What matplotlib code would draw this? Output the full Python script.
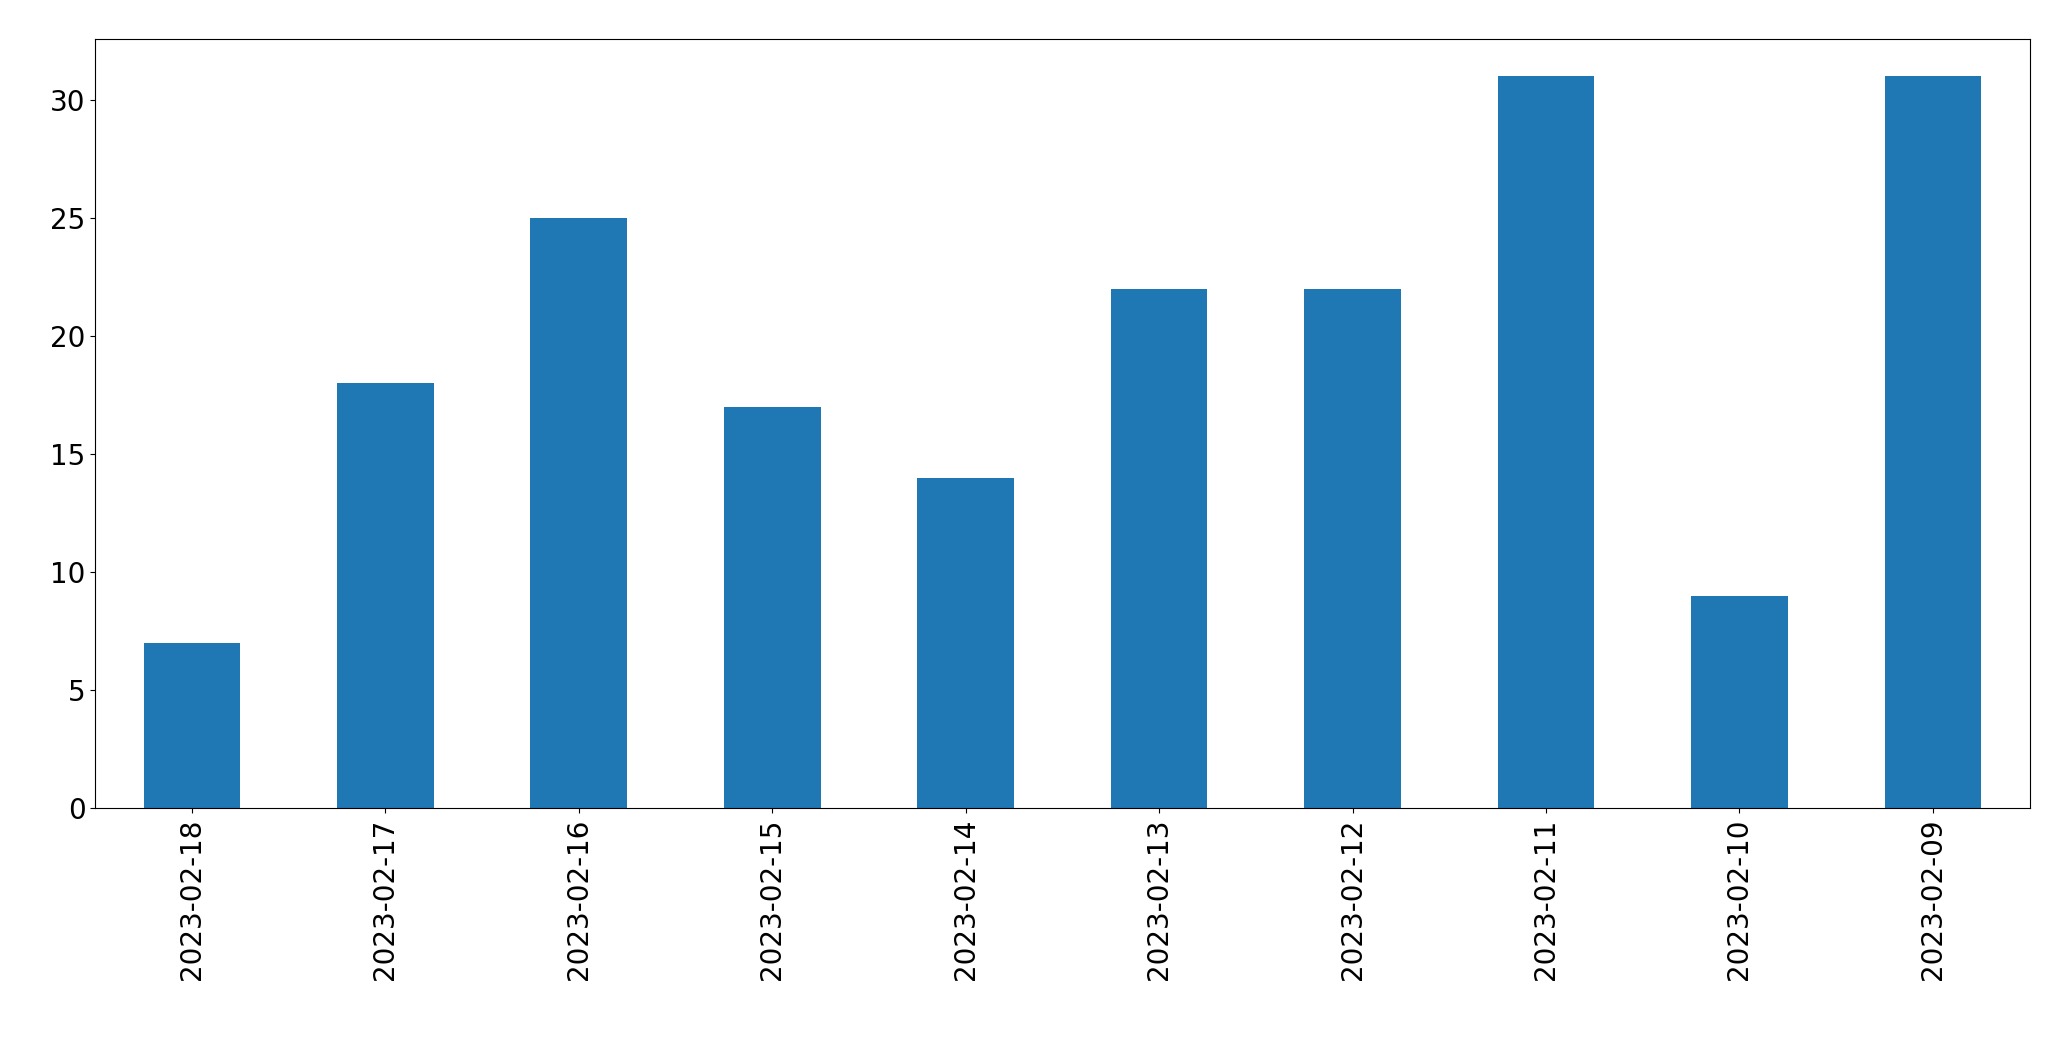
import matplotlib
matplotlib.use("Agg")
import matplotlib.pyplot as plt
import numpy as np

dates = ["2023-02-18", "2023-02-17", "2023-02-16", "2023-02-15", "2023-02-14",
         "2023-02-13", "2023-02-12", "2023-02-11", "2023-02-10", "2023-02-09"]
counts = [7, 18, 25, 17, 14, 22, 22, 31, 9, 31]

fig, ax = plt.subplots(figsize=(20.71, 10.61), dpi=100)
x = np.arange(len(dates))
ax.bar(x, counts, width=0.5, color="#1f77b4")
ax.set_xticks(x)
ax.set_xticklabels(dates, rotation=90)
ax.set_xlim(-0.5, len(dates) - 0.5)
ax.tick_params(labelsize=20)
fig.subplots_adjust(left=0.046, right=0.980, top=0.963, bottom=0.238)
fig.savefig("out.png")
